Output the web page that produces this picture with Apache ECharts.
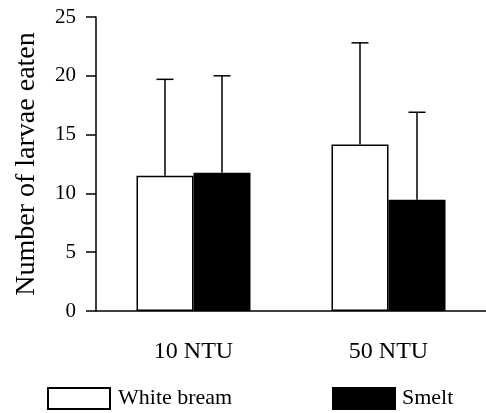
<!DOCTYPE html>
<html>
<head>
    <meta charset="UTF-8">
    <title>Larvae eaten</title>
    <script src="https://cdn.jsdelivr.net/npm/echarts@6/dist/echarts.min.js"></script>
    <style>
        html, body { margin: 0; padding: 0; background: #fff; }
        #main { width: 486px; height: 413px; }
    </style>
</head>
<body>
    <div id="main"></div>
    <script>
        var categories = ['10 NTU', '50 NTU'];
        var whiteBream = [11.5, 14.15];
        var whiteBreamUpper = [19.7, 22.8];
        var smelt = [11.75, 9.45];
        var smeltUpper = [20.0, 16.9];
        var yTicks = [0, 5, 10, 15, 20, 25];

        var FONT = "'Liberation Serif', 'DejaVu Serif', serif";
        var BAR_W = 57;
        var CAP_W = 17;

        var myChart = echarts.init(document.getElementById('main'));

        function errorData(means, uppers) {
            return means.map(function (m, i) { return [i, m, uppers[i]]; });
        }

        function makeErrorRender(offset) {
            return function (params, api) {
                var base = api.coord([api.value(0), api.value(1)]);
                var top = api.coord([api.value(0), api.value(2)]);
                var x = base[0] + offset;
                var style = { stroke: '#000', lineWidth: 1.5, fill: null };
                return {
                    type: 'group',
                    children: [
                        { type: 'line', shape: { x1: x, y1: base[1], x2: x, y2: top[1] }, style: style },
                        { type: 'line', shape: { x1: x - CAP_W / 2, y1: top[1], x2: x + CAP_W / 2, y2: top[1] }, style: style }
                    ]
                };
            };
        }

        var option = {
            backgroundColor: '#fff',
            animation: false,
            grid: { left: 96, right: -4, top: 17, bottom: 102 },
            legend: [
                {
                    data: ['White bream'],
                    left: 47, top: 387, padding: 0,
                    itemWidth: 62, itemHeight: 21,
                    icon: 'rect',
                    textStyle: { fontFamily: FONT, fontSize: 22, color: '#000', padding: [0, 0, 0, 3] }
                },
                {
                    data: ['Smelt'],
                    left: 332, top: 387, padding: 0,
                    itemWidth: 62, itemHeight: 21,
                    icon: 'rect',
                    textStyle: { fontFamily: FONT, fontSize: 22, color: '#000', padding: [0, 0, 0, 2] }
                }
            ],
            xAxis: {
                type: 'category',
                data: categories,
                axisLine: { lineStyle: { color: '#000', width: 1.5 } },
                axisTick: { length: 9, lineStyle: { color: '#000', width: 1.5 } },
                axisLabel: { fontFamily: FONT, fontSize: 24, color: '#000', margin: 29 }
            },
            yAxis: {
                type: 'value',
                min: 0, max: 25, interval: 5,
                name: 'Number of larvae eaten',
                nameLocation: 'middle',
                nameGap: 55,
                nameTextStyle: { fontFamily: FONT, fontSize: 28, color: '#000' },
                axisLine: { show: true, lineStyle: { color: '#000', width: 1.5 } },
                axisTick: { show: true, length: 10, lineStyle: { color: '#000', width: 1.5 } },
                axisLabel: {
                    fontFamily: FONT, fontSize: 21, color: '#000', margin: 20,
                    formatter: function (v) { return yTicks.indexOf(v) >= 0 ? String(v) : ''; }
                },
                splitLine: { show: false }
            },
            series: [
                {
                    name: 'White bream',
                    type: 'bar',
                    data: whiteBream,
                    barWidth: BAR_W,
                    barGap: '0%',
                    itemStyle: { color: '#fff', borderColor: '#000', borderWidth: 1.5 }
                },
                {
                    name: 'Smelt',
                    type: 'bar',
                    data: smelt,
                    barWidth: BAR_W,
                    barGap: '0%',
                    itemStyle: { color: '#000', borderColor: '#000', borderWidth: 1.5 }
                },
                {
                    type: 'custom',
                    renderItem: makeErrorRender(-BAR_W / 2),
                    data: errorData(whiteBream, whiteBreamUpper),
                    encode: { x: 0, y: [1, 2] },
                    z: 3
                },
                {
                    type: 'custom',
                    renderItem: makeErrorRender(BAR_W / 2),
                    data: errorData(smelt, smeltUpper),
                    encode: { x: 0, y: [1, 2] },
                    z: 3
                }
            ]
        };

        myChart.setOption(option);
    </script>
</body>
</html>
